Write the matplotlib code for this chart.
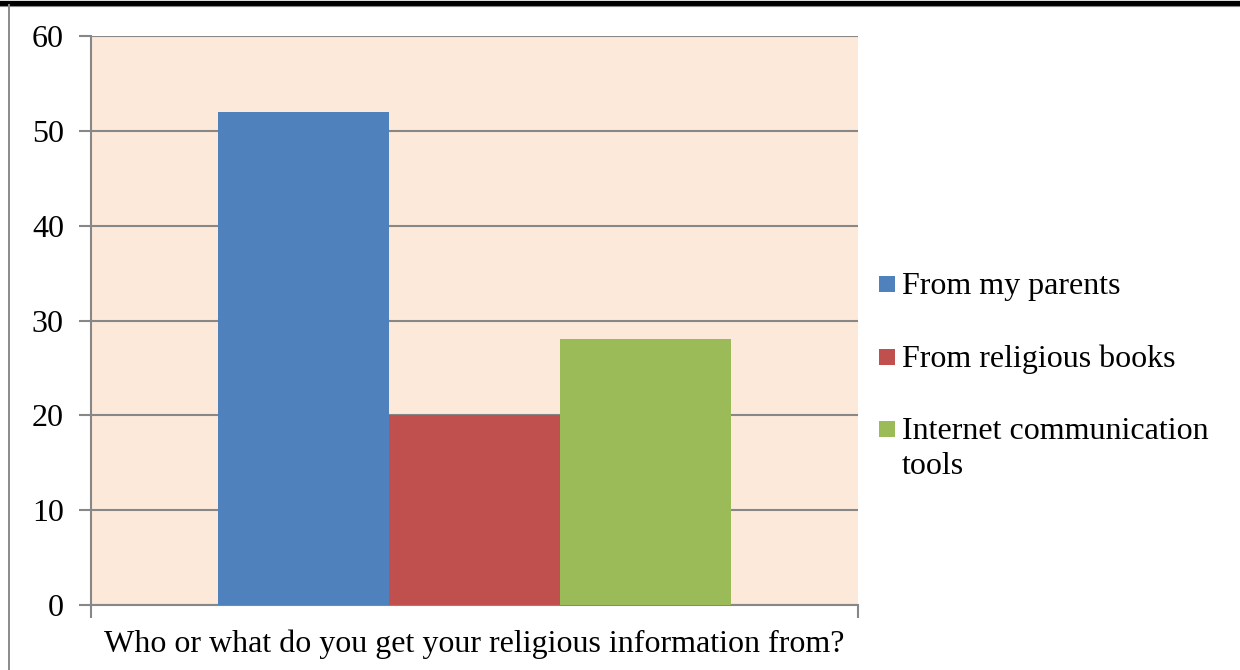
import matplotlib
matplotlib.use("Agg")
import matplotlib.pyplot as plt
from matplotlib.lines import Line2D
from matplotlib.patches import Rectangle
import numpy as np

plt.rcParams['font.family'] = ['Liberation Serif', 'DejaVu Serif']

category = "Who or what do you get your religious information from?"
series = ["From my parents", "From religious books", "Internet communication\ntools"]
values = [52, 20, 28]
colors = ["#4F81BD", "#C0504D", "#9BBB59"]
yticks = [0, 10, 20, 30, 40, 50, 60]

W, H = 1240, 670
FS = 23
fig = plt.figure(figsize=(W/100, H/100), dpi=100)
ax = fig.add_axes([91/W, 1 - 605/H, (858-91)/W, (605-36)/H])
ax.set_facecolor("#FDE9D9")

bw = 171/767
offsets = (np.arange(len(values)) - 1) * bw
for off, v, c, s in zip(offsets, values, colors, series):
    ax.bar(off, v, width=bw, color=c, label=s, zorder=3, linewidth=0)

ax.set_xlim(-0.5, 0.5)
ax.set_ylim(0, 60)
ax.set_yticks(yticks)
ax.set_yticklabels([str(t) for t in yticks], fontsize=FS)
ax.yaxis.grid(True, color="#878787", linewidth=1.5, zorder=1)
ax.set_axisbelow(True)
ax.tick_params(axis='y', length=9, width=1.5, color="#878787", pad=10.5)
ax.set_xticks([-0.5, 0.5])
ax.set_xticklabels(["", ""])
ax.tick_params(axis='x', length=9, width=1.5, color="#878787", direction='out')
ax.set_xlabel(category, fontsize=FS, labelpad=5)
for sp in ["top", "right"]:
    ax.spines[sp].set_visible(False)
for sp in ["left", "bottom"]:
    ax.spines[sp].set_color("#878787")
    ax.spines[sp].set_linewidth(1.5)

# legend drawn manually so that the marker aligns with the first text line
base0 = 293
step = 72.5
asc = 21
for i, (s, c) in enumerate(zip(series, colors)):
    yb = base0 + i * step
    fig.add_artist(Rectangle((879/W, 1 - (yb - 1)/H), 16/W, 16/H, transform=fig.transFigure,
                             facecolor=c, edgecolor='none'))
    fig.text(902/W, 1 - (yb - asc)/H, s, fontsize=FS, va='top', ha='left', linespacing=1.25)

# page borders
fig.add_artist(Line2D([0, 1], [1 - 2.5/H, 1 - 2.5/H], color="black", linewidth=3.8, transform=fig.transFigure))
fig.add_artist(Line2D([0, 1], [1 - 5.5/H, 1 - 5.5/H], color="#888888", linewidth=0.8, transform=fig.transFigure))
fig.add_artist(Line2D([8.5/W, 8.5/W], [0, 1 - 5/H], color="#8a8a8a", linewidth=1.4, transform=fig.transFigure))

fig.savefig("out.png", dpi=100)
